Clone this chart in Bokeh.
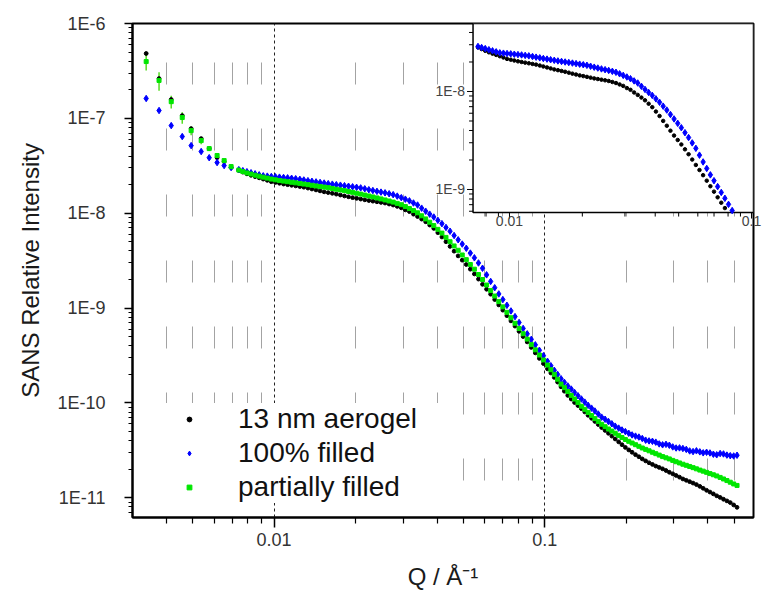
import numpy as np
from bokeh.plotting import figure
from bokeh.models import (Range1d, LogScale, FixedTicker, CustomJSTickFormatter,
                          Legend, LegendItem, BoxAnnotation)
from bokeh.core.properties import value
from bokeh.embed import file_html
from bokeh.resources import INLINE

# ---------------- data ----------------
q = [0.00337, 0.00376, 0.00417, 0.00458, 0.00494, 0.00538, 0.00576, 0.00616, 0.00654, 0.00694,
     0.00741, 0.00767, 0.00794, 0.00822, 0.00851, 0.00881, 0.00912, 0.00944, 0.00977, 0.01012,
     0.01047, 0.01084, 0.01122, 0.01161, 0.01202, 0.01245, 0.01288, 0.01334, 0.01380, 0.01429,
     0.01479, 0.01531, 0.01585, 0.01641, 0.01698, 0.01758, 0.01820, 0.01884, 0.01950, 0.02018,
     0.02089, 0.02163, 0.02239, 0.02317, 0.02399, 0.02483, 0.02570, 0.02661, 0.02754, 0.02851,
     0.02951, 0.03055, 0.03162, 0.03273, 0.03388, 0.03508, 0.03631, 0.03758, 0.03890, 0.04027,
     0.04169, 0.04315, 0.04467, 0.04624, 0.04786, 0.04955, 0.05129, 0.05309, 0.05495, 0.05689,
     0.05888, 0.06095, 0.06310, 0.06531, 0.06761, 0.06998, 0.07244, 0.07499, 0.07762, 0.08035,
     0.08318, 0.08610, 0.08913, 0.09226, 0.09550, 0.09886, 0.1023, 0.1053, 0.1084, 0.1115,
     0.1148, 0.1181, 0.1216, 0.1252, 0.1288, 0.1326, 0.1365, 0.1405, 0.1445, 0.1488,
     0.1531, 0.1576, 0.1622, 0.1670, 0.1718, 0.1769, 0.1820, 0.1874, 0.1928, 0.1984,
     0.2042, 0.2101, 0.2163, 0.2226, 0.2291, 0.2358, 0.2427, 0.2498, 0.2570, 0.2646,
     0.2723, 0.2803, 0.2884, 0.2969, 0.3055, 0.3145, 0.3236, 0.3331, 0.3428, 0.3529,
     0.3631, 0.3738, 0.3846, 0.3959, 0.4074, 0.4194, 0.4315, 0.4443, 0.4571, 0.4706,
     0.4842, 0.4985, 0.5129]

i_aerogel = [4.83e-7, 2.63e-7, 1.58e-7, 1.07e-7, 7.80e-8, 6.12e-8, 4.80e-8, 3.85e-8, 3.50e-8, 3.03e-8,
             2.82e-8, 2.71e-8, 2.60e-8, 2.51e-8, 2.43e-8, 2.36e-8, 2.29e-8, 2.22e-8, 2.15e-8, 2.11e-8,
             2.07e-8, 2.03e-8, 2.00e-8, 1.97e-8, 1.94e-8, 1.91e-8, 1.88e-8, 1.84e-8, 1.80e-8, 1.76e-8,
             1.72e-8, 1.68e-8, 1.65e-8, 1.62e-8, 1.59e-8, 1.555e-8, 1.52e-8, 1.49e-8, 1.46e-8, 1.435e-8,
             1.41e-8, 1.385e-8, 1.36e-8, 1.34e-8, 1.32e-8, 1.30e-8, 1.28e-8, 1.25e-8, 1.22e-8, 1.18e-8,
             1.14e-8, 1.084e-8, 1.04e-8, 9.77e-9, 9.23e-9, 8.67e-9, 8.13e-9, 7.50e-9, 6.92e-9, 6.24e-9,
             5.62e-9, 5.01e-9, 4.47e-9, 3.98e-9, 3.55e-9, 3.20e-9, 2.88e-9, 2.57e-9, 2.29e-9, 2.02e-9,
             1.78e-9, 1.58e-9, 1.40e-9, 1.23e-9, 1.08e-9, 9.51e-10, 8.32e-10, 7.33e-10, 6.46e-10, 5.69e-10,
             5.01e-10, 4.40e-10, 3.85e-10, 3.37e-10, 2.95e-10, 2.60e-10, 2.29e-10, 2.07e-10, 1.86e-10, 1.66e-10,
             1.48e-10, 1.33e-10, 1.20e-10, 1.10e-10, 1.01e-10, 9.38e-11, 8.71e-11, 8.04e-11, 7.41e-11, 6.89e-11,
             6.38e-11, 5.92e-11, 5.50e-11, 5.13e-11, 4.79e-11, 4.47e-11, 4.17e-11, 3.89e-11, 3.63e-11, 3.40e-11,
             3.20e-11, 3.02e-11, 2.85e-11, 2.71e-11, 2.57e-11, 2.45e-11, 2.34e-11, 2.25e-11, 2.16e-11, 2.09e-11,
             2.02e-11, 1.94e-11, 1.86e-11, 1.79e-11, 1.72e-11, 1.65e-11, 1.58e-11, 1.53e-11, 1.48e-11, 1.43e-11,
             1.38e-11, 1.32e-11, 1.26e-11, 1.20e-11, 1.15e-11, 1.10e-11, 1.05e-11, 1.01e-11, 9.66e-12, 9.28e-12,
             8.91e-12, 8.41e-12, 7.94e-12]

i_full = [1.62e-7, 1.21e-7, 8.39e-8, 6.43e-8, 5.16e-8, 4.47e-8, 3.85e-8, 3.42e-8, 3.18e-8, 3.03e-8,
          2.88e-8, 2.81e-8, 2.74e-8, 2.67e-8, 2.60e-8, 2.54e-8, 2.48e-8, 2.46e-8, 2.44e-8, 2.42e-8,
          2.40e-8, 2.38e-8, 2.36e-8, 2.335e-8, 2.31e-8, 2.275e-8, 2.24e-8, 2.205e-8, 2.17e-8, 2.14e-8,
          2.11e-8, 2.08e-8, 2.05e-8, 2.025e-8, 2.00e-8, 1.975e-8, 1.95e-8, 1.925e-8, 1.90e-8, 1.875e-8,
          1.85e-8, 1.81e-8, 1.77e-8, 1.735e-8, 1.70e-8, 1.67e-8, 1.64e-8, 1.605e-8, 1.57e-8, 1.515e-8,
          1.46e-8, 1.406e-8, 1.35e-8, 1.282e-8, 1.22e-8, 1.130e-8, 1.05e-8, 9.77e-9, 9.12e-9, 8.41e-9,
          7.76e-9, 7.08e-9, 6.46e-9, 5.82e-9, 5.25e-9, 4.73e-9, 4.27e-9, 3.80e-9, 3.39e-9, 2.99e-9,
          2.63e-9, 2.24e-9, 1.91e-9, 1.64e-9, 1.41e-9, 1.23e-9, 1.07e-9, 9.33e-10, 8.13e-10, 7.05e-10,
          6.10e-10, 5.35e-10, 4.68e-10, 4.10e-10, 3.59e-10, 3.15e-10, 2.75e-10, 2.47e-10, 2.21e-10, 2.00e-10,
          1.80e-10, 1.65e-10, 1.51e-10, 1.40e-10, 1.29e-10, 1.19e-10, 1.10e-10, 1.02e-10, 9.44e-11, 8.81e-11,
          8.22e-11, 7.64e-11, 7.08e-11, 6.73e-11, 6.38e-11, 6.03e-11, 5.69e-11, 5.43e-11, 5.19e-11, 4.99e-11,
          4.79e-11, 4.60e-11, 4.47e-11, 4.37e-11, 4.22e-11, 4.05e-11, 3.98e-11, 3.94e-11, 3.86e-11, 3.70e-11,
          3.62e-11, 3.66e-11, 3.58e-11, 3.44e-11, 3.35e-11, 3.36e-11, 3.31e-11, 3.24e-11, 3.12e-11, 3.07e-11,
          3.13e-11, 3.05e-11, 2.98e-11, 3.02e-11, 2.97e-11, 2.88e-11, 2.84e-11, 2.93e-11, 2.90e-11, 2.82e-11,
          2.78e-11, 2.76e-11, 2.81e-11]

i_partial = [3.97e-7, 2.51e-7, 1.50e-7, 1.02e-7, 7.43e-8, 5.83e-8, 4.80e-8, 4.06e-8, 3.59e-8, 3.10e-8,
             2.85e-8, 2.75e-8, 2.66e-8, 2.59e-8, 2.52e-8, 2.46e-8, 2.40e-8, 2.345e-8, 2.29e-8, 2.25e-8,
             2.21e-8, 2.18e-8, 2.15e-8, 2.12e-8, 2.09e-8, 2.06e-8, 2.03e-8, 2.00e-8, 1.97e-8, 1.94e-8,
             1.91e-8, 1.885e-8, 1.86e-8, 1.825e-8, 1.79e-8, 1.76e-8, 1.73e-8, 1.695e-8, 1.66e-8, 1.625e-8,
             1.59e-8, 1.555e-8, 1.52e-8, 1.485e-8, 1.45e-8, 1.415e-8, 1.38e-8, 1.345e-8, 1.31e-8, 1.27e-8,
             1.23e-8, 1.175e-8, 1.12e-8, 1.067e-8, 1.01e-8, 9.40e-9, 8.71e-9, 8.04e-9, 7.41e-9, 6.76e-9,
             6.17e-9, 5.56e-9, 5.01e-9, 4.52e-9, 4.07e-9, 3.63e-9, 3.24e-9, 2.88e-9, 2.57e-9, 2.26e-9,
             2.00e-9, 1.75e-9, 1.53e-9, 1.34e-9, 1.17e-9, 1.03e-9, 9.02e-10, 7.91e-10, 6.92e-10, 6.10e-10,
             5.37e-10, 4.71e-10, 4.12e-10, 3.63e-10, 3.20e-10, 2.84e-10, 2.51e-10, 2.24e-10, 2.00e-10, 1.78e-10,
             1.58e-10, 1.45e-10, 1.32e-10, 1.20e-10, 1.10e-10, 1.01e-10, 9.23e-11, 8.57e-11, 7.94e-11, 7.38e-11,
             6.84e-11, 6.38e-11, 5.96e-11, 5.62e-11, 5.31e-11, 5.05e-11, 4.79e-11, 4.55e-11, 4.32e-11, 4.12e-11,
             3.94e-11, 3.78e-11, 3.63e-11, 3.49e-11, 3.35e-11, 3.24e-11, 3.13e-11, 3.02e-11, 2.92e-11, 2.82e-11,
             2.72e-11, 2.64e-11, 2.57e-11, 2.48e-11, 2.40e-11, 2.33e-11, 2.26e-11, 2.20e-11, 2.14e-11, 2.08e-11,
             2.02e-11, 1.96e-11, 1.91e-11, 1.855e-11, 1.80e-11, 1.75e-11, 1.70e-11, 1.64e-11, 1.58e-11, 1.52e-11,
             1.46e-11, 1.40e-11, 1.35e-11]

# error bars of the first partially-filled points
partial_err = [0.78e-7, 0.55e-7, 0.23e-7, 0.14e-7, 0.08e-7, 0.05e-7]

series_names = ["13 nm aerogel", "100% filled", "partially filled"]
series_colors = ["#000000", "#0000ff", "#00e600"]

x_major_ticks = [0.01, 0.1]
y_major_ticks = [1e-11, 1e-10, 1e-9, 1e-8, 1e-7, 1e-6]
inset_x_major = [0.01, 0.1]
inset_x_labels = ["0.01", "0.1"]
inset_y_major = [1e-9, 1e-8]
inset_y_labels = ["1E-9", "1E-8"]

FONT = "Liberation Sans"

# ---------------- main figure ----------------
p = figure(width=763, height=593, x_axis_type="log", y_axis_type="log",
           x_range=(0.003, 0.59), y_range=(6.2e-12, 1e-6),
           output_backend="svg", toolbar_location=None,
           min_border_left=132, min_border_right=10, min_border_top=23, min_border_bottom=76,
           background_fill_color="white", border_fill_color="white")

x_minor = [m * 10.0 ** e for e in (-3, -2, -1) for m in range(2, 10)]
x_minor = [t for t in x_minor if 0.0035 < t < 0.59]
y_minor = [m * 10.0 ** e for e in range(-12, -6) for m in range(2, 10)]
xt = FixedTicker(ticks=x_major_ticks, minor_ticks=x_minor)
yt = FixedTicker(ticks=y_major_ticks, minor_ticks=y_minor)
p.xaxis.ticker = xt
p.yaxis.ticker = yt
p.xgrid.ticker = xt

p.xaxis.formatter = CustomJSTickFormatter(code="return String(Number(tick.toPrecision(2)));")
p.yaxis.formatter = CustomJSTickFormatter(code="return '1E' + Math.round(Math.log10(tick));")

for ax in (p.xaxis[0], p.yaxis[0]):
    ax.axis_line_width = 2
    ax.axis_line_color = "black"
    ax.major_tick_line_color = "black"
    ax.minor_tick_line_color = "black"
    ax.major_tick_line_width = 1.5
    ax.minor_tick_line_width = 1.2
    ax.major_tick_in = 0
    ax.minor_tick_in = 0
    ax.major_label_text_font = FONT
    ax.major_label_text_font_size = "18px"
    ax.major_label_text_color = "#333333"
    ax.axis_label_text_font = FONT
    ax.axis_label_text_font_size = "24px"
    ax.axis_label_text_font_style = "normal"
    ax.axis_label_text_color = "#1a1a1a"

p.xaxis.major_tick_out = 10
p.xaxis.minor_tick_out = 6
p.xaxis.major_label_standoff = 5
p.xaxis.axis_label = "Q / Å⁻¹"
p.xaxis.axis_label_standoff = 14

p.yaxis.major_tick_out = 8
p.yaxis.minor_tick_out = 4
p.yaxis.major_label_standoff = 19
p.yaxis.axis_label = "SANS Relative Intensity"
p.yaxis.axis_label_standoff = 10

p.outline_line_color = "black"
p.outline_line_width = 2
p.outline_line_alpha = 1

p.ygrid.visible = False
p.xgrid.grid_line_color = "#222222"
p.xgrid.grid_line_dash = "3 3"
p.xgrid.grid_line_width = 1
p.xgrid.minor_grid_line_color = "#a3a3a3"
p.xgrid.minor_grid_line_dash = "22 44"
p.xgrid.minor_grid_line_dash_offset = 29
p.xgrid.minor_grid_line_width = 1

# error bars
n_err = len(partial_err)
p.segment(x0=q[:n_err], x1=q[:n_err],
          y0=[v - e for v, e in zip(i_partial[:n_err], partial_err)],
          y1=[v + e for v, e in zip(i_partial[:n_err], partial_err)],
          line_color="#55dd22", line_width=1.5)

r_aero = p.scatter(q, i_aerogel, marker="circle", size=3.8, color=series_colors[0])
r_full = p.scatter(q, i_full, marker="diamond", size=6.5, color=series_colors[1])
r_part = p.scatter(q, i_partial, marker="square", size=4, color=series_colors[2])

legend = Legend(items=[LegendItem(label=series_names[0], renderers=[r_aero]),
                       LegendItem(label=series_names[1], renderers=[r_full]),
                       LegendItem(label=series_names[2], renderers=[r_part])],
                location=(8, 14), padding=10, spacing=2,
                glyph_width=98, glyph_height=12, label_height=32, label_width=200,
                label_standoff=-8, label_text_font=FONT, label_text_font_size="28px",
                label_text_color="#111111",
                background_fill_color="white", background_fill_alpha=1.0,
                border_line_color=None)
p.add_layout(legend)

# ---------------- inset (own log scales inside the same frame) ----------------
ix0, ix1 = 2.77e-4, 0.1019      # inset x-scale spanning the whole frame
iy0, iy1 = 4.50e-13, 4.94e-8    # inset y-scale spanning the whole frame
box_left, box_bottom = 0.00707, 5.82e-10

p.extra_x_ranges = {"ix": Range1d(ix0, ix1)}
p.extra_y_ranges = {"iy": Range1d(iy0, iy1)}
p.extra_x_scales = {"ix": LogScale()}
p.extra_y_scales = {"iy": LogScale()}

inset_box = BoxAnnotation(left=box_left, right=ix1, bottom=box_bottom, top=iy1,
                          x_range_name="ix", y_range_name="iy",
                          fill_color="white", fill_alpha=1.0,
                          line_color="black", line_alpha=1.0, line_width=1.5)
p.add_layout(inset_box)

qa = np.array(q)
ia = np.array(i_aerogel)
ifl = np.array(i_full)
ins_mask_a = (qa >= box_left) & (ia >= box_bottom) & (ia <= iy1)
ins_mask_f = (qa >= box_left) & (ifl >= box_bottom) & (ifl <= iy1)
p.scatter(qa[ins_mask_a], ia[ins_mask_a], marker="circle", size=3.5,
          color=series_colors[0], x_range_name="ix", y_range_name="iy", level="overlay")
p.scatter(qa[ins_mask_f], ifl[ins_mask_f], marker="diamond", size=6.5,
          color=series_colors[1], x_range_name="ix", y_range_name="iy", level="overlay")

ins_x_minor = [t for t in [m * 10.0 ** e for e in (-3, -2) for m in range(2, 10)] if box_left < t < ix1]
ins_y_minor = [t for t in [m * 10.0 ** e for e in (-10, -9, -8) for m in range(2, 10)] if box_bottom < t < iy1]

tick_kw = dict(line_color="black", line_width=1, length_units="screen",
               x_range_name="ix", y_range_name="iy", level="overlay")
p.ray(x=inset_x_major, y=[box_bottom] * len(inset_x_major), length=6, angle=-np.pi / 2, **tick_kw)
p.ray(x=ins_x_minor, y=[box_bottom] * len(ins_x_minor), length=4, angle=-np.pi / 2, **tick_kw)
p.ray(x=[box_left] * len(inset_y_major), y=inset_y_major, length=6, angle=np.pi, **tick_kw)
p.ray(x=[box_left] * len(ins_y_minor), y=ins_y_minor, length=4, angle=np.pi, **tick_kw)

p.text(x=inset_x_major, y=[box_bottom] * len(inset_x_major), text=inset_x_labels,
       text_align="center", text_baseline="top", y_offset=3,
       text_font=value(FONT), text_font_size="14px", text_color="#444444",
       x_range_name="ix", y_range_name="iy", level="overlay")
p.text(x=[box_left] * len(inset_y_major), y=inset_y_major, text=inset_y_labels,
       text_align="right", text_baseline="middle", x_offset=-8,
       text_font=value(FONT), text_font_size="14px", text_color="#444444",
       x_range_name="ix", y_range_name="iy", level="overlay")

open("out.html", "w").write(file_html(p, INLINE))
